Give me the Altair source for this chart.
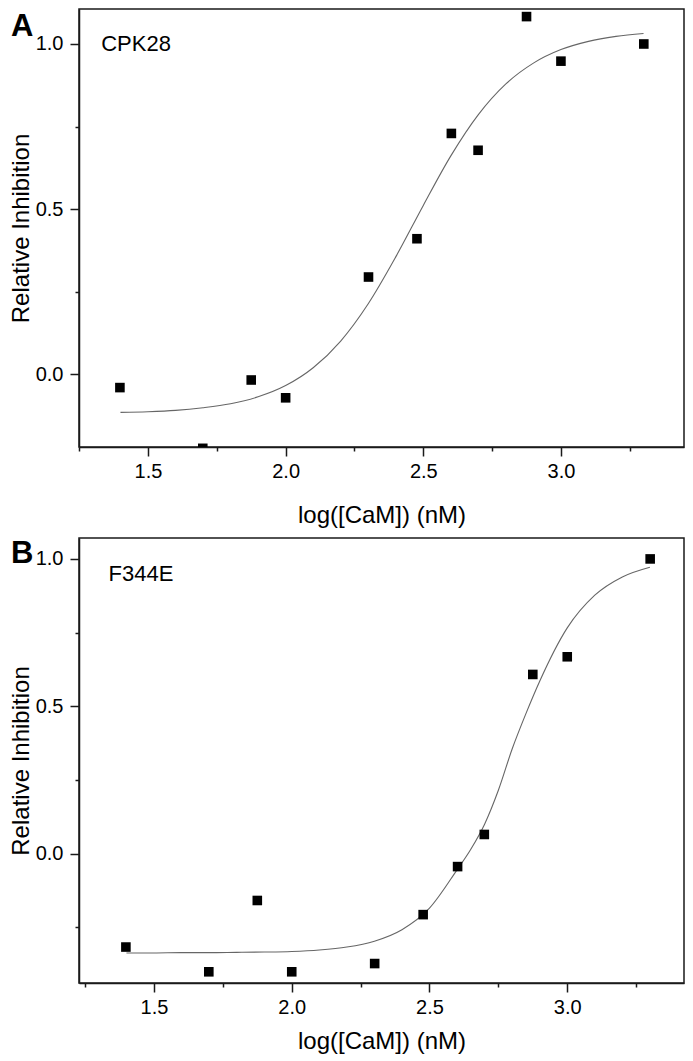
import altair as alt
import pandas as pd

# ---------------- data ----------------
x_log = [1.398, 1.699, 1.875, 2.000, 2.301, 2.477, 2.602, 2.699, 2.875, 3.000, 3.301]
cpk28_inhibition = [-0.041, -0.225, -0.018, -0.072, 0.294, 0.410, 0.729, 0.678, 1.083, 0.948, 1.000]
f344e_inhibition = [-0.317, -0.401, -0.159, -0.401, -0.373, -0.207, -0.044, 0.065, 0.608, 0.668, 1.000]

cpk28_fit_x = [1.4, 1.5, 1.6, 1.7, 1.8, 1.9, 2.0, 2.1, 2.2, 2.3, 2.4, 2.5, 2.6, 2.7, 2.8, 2.9, 3.0, 3.1, 3.2, 3.3]
cpk28_fit = [-0.116, -0.114, -0.110, -0.102, -0.090, -0.069, -0.035, 0.019, 0.100, 0.213,
             0.355, 0.511, 0.661, 0.786, 0.879, 0.942, 0.983, 1.008, 1.023, 1.032]
f344e_fit_x = [1.4, 1.5, 1.6, 1.7, 1.8, 1.9, 2.0, 2.1, 2.2, 2.3, 2.4, 2.5, 2.6, 2.65, 2.7, 2.75,
               2.8, 2.85, 2.9, 3.0, 3.1, 3.2, 3.3]
f344e_fit = [-0.337, -0.337, -0.336, -0.336, -0.335, -0.334, -0.332, -0.327, -0.317, -0.297,
             -0.258, -0.185, -0.055, 0.015, 0.100, 0.215, 0.355, 0.475, 0.585, 0.766, 0.877,
             0.939, 0.972]

x_ticks = [1.25, 1.5, 1.75, 2.0, 2.25, 2.5, 2.75, 3.0, 3.25]
y_ticks_a = [0.0, 0.25, 0.5, 0.75, 1.0]
y_ticks_b = [-0.25, 0.0, 0.25, 0.5, 0.75, 1.0]

panel_letters = ["A", "B"]
panel_names = ["CPK28", "F344E"]
name_x = [1.33, 1.335]
name_y = [1.0, 0.95]

x_title = "log([CaM]) (nM)"
y_title = "Relative Inhibition"

# ---------------- styling ----------------
FONT = "Liberation Sans"
INK = "#1a1a1a"
MAJOR = "abs(datum.value * 2 - round(datum.value * 2)) < 0.001"
LABEL = MAJOR + " ? format(datum.value, '.1f') : ''"
TICK = {"condition": {"test": MAJOR, "value": 9}, "value": 4}


def panel(i, pts, fx, fit, xdom, ydom, yticks, width, height, letter_y, xtitle_pad):
    xs = alt.Scale(domain=xdom, nice=False, zero=False)
    ys = alt.Scale(domain=ydom, nice=False, zero=False)
    xaxis = alt.Axis(values=x_ticks, labelExpr=LABEL, tickSize=TICK, title=x_title,
                     labelPadding=5, titlePadding=xtitle_pad)
    yaxis = alt.Axis(values=yticks, labelExpr=LABEL, tickSize=TICK, title=y_title,
                     labelPadding=7, titlePadding=2)

    df_pts = pd.DataFrame({"x": x_log, "v": pts})
    df_fit = pd.DataFrame({"x": fx, "v": fit})

    line = alt.Chart(df_fit).mark_line(color="#666666", strokeWidth=1.1,
                                       interpolate="monotone").encode(
        x=alt.X("x:Q", scale=xs, axis=xaxis),
        y=alt.Y("v:Q", scale=ys, axis=yaxis),
    )
    dots = alt.Chart(df_pts).mark_square(size=92, color="black", opacity=1, clip=True).encode(
        x=alt.X("x:Q", scale=xs, axis=xaxis),
        y=alt.Y("v:Q", scale=ys, axis=yaxis),
    )
    name = alt.Chart(pd.DataFrame({"x": [name_x[i]], "v": [name_y[i]], "t": [panel_names[i]]})).mark_text(
        align="left", baseline="middle", fontSize=22, font=FONT, color="black").encode(
        x=alt.X("x:Q", scale=xs), y=alt.Y("v:Q", scale=ys), text="t:N")
    letter = alt.Chart(pd.DataFrame({"t": [panel_letters[i]]})).mark_text(
        align="left", baseline="top", fontSize=31, fontWeight="bold", font=FONT,
        color="black").encode(text="t:N", x=alt.value(-68), y=alt.value(letter_y))
    return alt.layer(line, dots, name, letter).properties(width=width, height=height)


panel_a = panel(0, cpk28_inhibition, cpk28_fit_x, cpk28_fit, [1.2494, 3.447], [-0.221, 1.106],
                y_ticks_a, 605, 438, 3, 22)
panel_b = panel(1, f344e_inhibition, f344e_fit_x, f344e_fit, [1.2278, 3.4238], [-0.439, 1.071],
                y_ticks_b, 605, 445, 1, 12)

chart = alt.concat(panel_a, panel_b, columns=1, spacing=9).properties(
    padding=0
).configure_view(
    stroke=INK, strokeWidth=1.5
).configure_axis(
    domainColor=INK, domainWidth=1.5, tickColor=INK, tickWidth=1.5,
    labelColor="black", titleColor="black", labelFont=FONT, titleFont=FONT,
    labelFontSize=20, titleFontSize=24, titleFontWeight="normal",
    grid=False, labelFlush=False, labelOverlap=False,
)

chart.save("out.html", embed_options={"renderer": "svg", "actions": False})
